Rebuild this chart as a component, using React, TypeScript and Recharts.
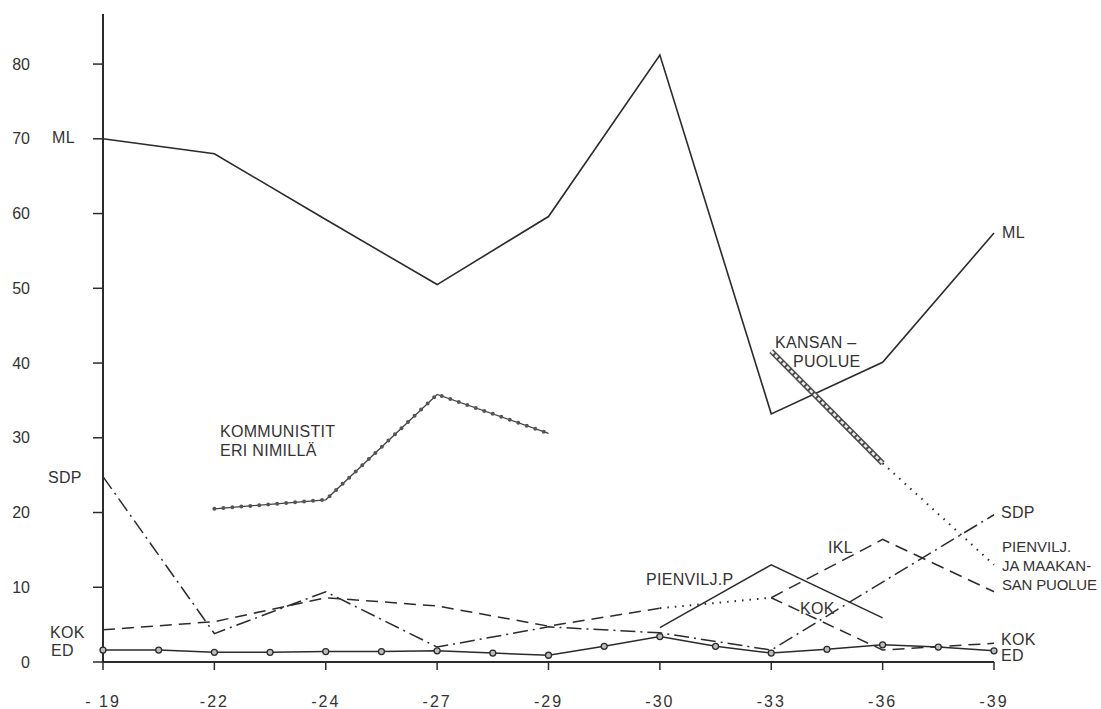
import React from 'react';
import { LineChart, Line, XAxis, YAxis } from 'recharts';

// election years (x categories, evenly spaced)
const years = ['- 19', '-22', '-24', '-27', '-29', '-30', '-33', '-36', '-39'];
const yTicks = [0, 10, 20, 30, 40, 50, 60, 70, 80];

// party shares, % (null = party not present)
const ml = [70, 68, 59.2, 50.5, 59.6, 81.2, 33.2, 40.1, 57.4];
const sdp = [24.8, 3.8, 9.4, 2.0, 4.7, 3.9, 1.6, 10.7, 19.7];
const kok = [4.3, 5.4, 8.6, 7.5, 4.8, 7.2, 8.6, 1.6, 2.5];
const kommunistit = [null, 20.5, 21.7, 35.8, 30.6, null, null, null, null];
const kansanpuolue = [null, null, null, null, null, null, 41.6, 26.6, null];
const pienviljMaakansa = [null, null, null, null, null, null, null, 26.6, 13.0];
const pienviljP = [null, null, null, null, null, 4.6, 13.0, 5.9, null];
const ikl = [null, null, null, null, null, null, 8.6, 16.4, 9.4];
// ED is drawn with a marker every half interval
const ed = [1.6, 1.6, 1.3, 1.3, 1.4, 1.4, 1.5, 1.2, 0.9, 2.1, 3.4, 2.1, 1.2, 1.7, 2.3, 2.0, 1.5];

const inRange = (arr: (number | null)[], from: number, to: number) =>
  arr.map((v, i) => (i >= from && i <= to ? v : null));

const rows = years.map((label, i) => ({
  x: i,
  label,
  ml: ml[i],
  sdp: sdp[i],
  kokA: inRange(kok, 0, 5)[i],
  kokDot: inRange(kok, 5, 6)[i],
  kokB: inRange(kok, 6, 8)[i],
  kommunistit: kommunistit[i],
  kansanpuolue: kansanpuolue[i],
  pienviljMaakansa: pienviljMaakansa[i],
  pienviljP: pienviljP[i],
  ikl: ikl[i],
}));

const edRows = ed.map((v, i) => ({ x: i / 2, ed: v }));

const INK = '#2b2b2b';
const FONT = '"Liberation Sans", Arial, sans-serif';

const labels: { t: string; x: number; y: number; size?: number; ls?: number }[] = [
  { t: 'ML', x: 52, y: 143 },
  { t: 'SDP', x: 48, y: 483 },
  { t: 'KOK', x: 50, y: 638 },
  { t: 'ED', x: 51, y: 656 },
  { t: 'KOMMUNISTIT', x: 220, y: 437 },
  { t: 'ERI NIMILLÄ', x: 220, y: 456 },
  { t: 'KANSAN –', x: 775, y: 348 },
  { t: 'PUOLUE', x: 793, y: 367 },
  { t: 'PIENVILJ.P', x: 646, y: 585 },
  { t: 'IKL', x: 828, y: 553 },
  { t: 'KOK', x: 800, y: 614 },
  { t: 'ML', x: 1002, y: 238 },
  { t: 'SDP', x: 1001, y: 518 },
  { t: 'PIENVILJ.', x: 1002, y: 552, size: 15, ls: 0 },
  { t: 'JA MAAKAN-', x: 1002, y: 571, size: 15, ls: 0 },
  { t: 'SAN PUOLUE', x: 1002, y: 590, size: 15, ls: -0.2 },
  { t: 'KOK', x: 1001, y: 645 },
  { t: 'ED', x: 1001, y: 661 },
];

const W = 1101;
const H = 709;

export default function App() {
  return (
    <div style={{ position: 'absolute', left: 0, top: 0, width: W, height: H, background: '#fff' }}>
      <LineChart
        width={W}
        height={H}
        data={rows}
        margin={{ top: 14, right: 107, bottom: 0, left: 0 }}
      >
        <XAxis
          dataKey="x"
          type="number"
          domain={[0, 8]}
          ticks={years.map((_, i) => i)}
          tickFormatter={(v: number) => years[v]}
          height={47}
          tickSize={8}
          tickMargin={26}
          axisLine={{ stroke: INK, strokeWidth: 1.8 }}
          tickLine={{ stroke: INK, strokeWidth: 1.5 }}
          tick={{ fill: '#333', fontSize: 16, fontFamily: FONT, letterSpacing: 2 }}
        />
        <YAxis
          type="number"
          domain={[0, 86.7]}
          ticks={yTicks}
          width={103}
          tickSize={10}
          tickMargin={63}
          axisLine={{ stroke: INK, strokeWidth: 2 }}
          tickLine={{ stroke: INK, strokeWidth: 1.5 }}
          tick={{ fill: '#333', fontSize: 16, fontFamily: FONT }}
        />

        <Line dataKey="ml" stroke={INK} strokeWidth={1.6} dot={false} isAnimationActive={false} />
        <Line dataKey="sdp" stroke={INK} strokeWidth={1.5} strokeDasharray="15 5 2 5" dot={false} isAnimationActive={false} />
        <Line dataKey="kokA" stroke={INK} strokeWidth={1.5} strokeDasharray="12 7" dot={false} isAnimationActive={false} />
        <Line dataKey="kokDot" stroke={INK} strokeWidth={2} strokeDasharray="1.5 6" dot={false} isAnimationActive={false} />
        <Line dataKey="kokB" stroke={INK} strokeWidth={1.5} strokeDasharray="12 7" dot={false} isAnimationActive={false} />
        <Line dataKey="ikl" stroke={INK} strokeWidth={1.5} strokeDasharray="13 7" dot={false} isAnimationActive={false} />
        <Line dataKey="pienviljP" stroke={INK} strokeWidth={1.5} dot={false} isAnimationActive={false} />
        <Line dataKey="pienviljMaakansa" stroke={INK} strokeWidth={2} strokeDasharray="1.5 6" dot={false} isAnimationActive={false} />

        {/* kommunistit: thin line with small beads */}
        <Line dataKey="kommunistit" stroke="#444" strokeWidth={1.3} dot={false} isAnimationActive={false} />
        <Line dataKey="kommunistit" stroke="#555" strokeWidth={4} strokeDasharray="0 9" strokeLinecap="round" dot={false} isAnimationActive={false} />

        {/* kansanpuolue: chain of hollow rings */}
        <Line dataKey="kansanpuolue" stroke="#4a4a4a" strokeWidth={5.5} dot={false} isAnimationActive={false} />
        <Line dataKey="kansanpuolue" stroke="#ececec" strokeWidth={2.6} strokeDasharray="3.5 2" dot={false} isAnimationActive={false} />

        <Line
          data={edRows}
          dataKey="ed"
          stroke={INK}
          strokeWidth={1.5}
          dot={{ r: 3, fill: '#bdbdbd', stroke: INK, strokeWidth: 1.3 }}
          isAnimationActive={false}
        />
      </LineChart>

      <svg width={W} height={H} style={{ position: 'absolute', left: 0, top: 0, pointerEvents: 'none' }}>
        {labels.map((l, i) => (
          <text
            key={i}
            x={l.x}
            y={l.y}
            fontSize={l.size ?? 16}
            fontFamily={FONT}
            fill="#333"
            letterSpacing={l.ls ?? 0.3}
          >
            {l.t}
          </text>
        ))}
      </svg>
    </div>
  );
}
